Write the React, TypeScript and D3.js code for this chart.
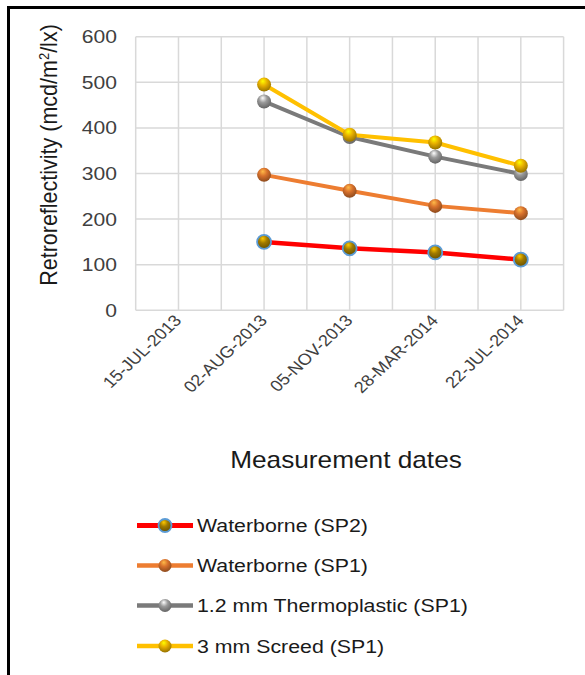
import React, { useEffect } from "react";
import * as d3 from "d3";

const categories = ["15-JUL-2013", "02-AUG-2013", "05-NOV-2013", "28-MAR-2014", "22-JUL-2014"];
const seriesNames = ["Waterborne (SP2)", "Waterborne (SP1)", "1.2 mm Thermoplastic (SP1)", "3 mm Screed (SP1)"];
const waterborneSP2: (number | null)[] = [null, 150, 136, 127, 111];
const waterborneSP1: (number | null)[] = [null, 297, 262, 229, 213];
const thermoplasticSP1: (number | null)[] = [null, 458, 380, 337, 299];
const screedSP1: (number | null)[] = [null, 495, 385, 368, 317];
const yTicks = [0, 100, 200, 300, 400, 500, 600];

const lineColors = ["#ff0000", "#ed7d31", "#7a7a7a", "#ffc000"];
const markerBase = ["#a07a00", "#d8712c", "#9a9a9a", "#e8b000"];
const markerStroke = ["#5b9bd5", "none", "none", "none"];

const FONT = "'Liberation Sans', Arial, sans-serif";
const SX = 1.14;

export default function App() {
  useEffect(() => {
    document.body.style.margin = "0";
  }, []);

  const W = 585, H = 675;
  const left = 135.7, right = 563.6, top = 36.7, bottom = 310.3;
  const x = d3.scaleBand<string>().domain(categories).range([left, right]).padding(0);
  const bw = x.bandwidth();
  const cx = (c: string) => (x(c) as number) + bw / 2;
  const y = d3.scaleLinear().domain([0, 600]).range([bottom, top]);

  const allSeries = [waterborneSP2, waterborneSP1, thermoplasticSP1, screedSP1];
  const line = d3
    .line<number | null>()
    .defined((d) => d != null)
    .x((_, i) => cx(categories[i]))
    .y((d) => y(d as number));

  const vGrid: number[] = [];
  categories.forEach((c) => {
    vGrid.push(x(c) as number);
    vGrid.push(cx(c));
  });
  vGrid.push(right);

  const legendY = [525.5, 565.5, 605.5, 646];

  const sphere = (i: number, px: number, py: number, r: number, key: string) => (
    <circle
      key={key}
      cx={px}
      cy={py}
      r={r}
      fill={`url(#grad${i})`}
      stroke={markerStroke[i]}
      strokeWidth={markerStroke[i] === "none" ? 0 : 1.8}
    />
  );

  return (
    <svg width={W} height={H} style={{ display: "block", position: "absolute", left: 0, top: 0, background: "#fff" }}>
      <defs>
        {markerBase.map((c, i) => (
          <radialGradient key={i} id={`grad${i}`} cx="45%" cy="35%" r="65%" fx="40%" fy="25%">
            <stop offset="0%" stopColor={d3.color(c)!.brighter(1.4).formatHex()} />
            <stop offset="45%" stopColor={c} />
            <stop offset="100%" stopColor={d3.color(c)!.darker(1.2).formatHex()} />
          </radialGradient>
        ))}
      </defs>
      <rect x={0} y={0} width={W} height={H} fill="#fff" />
      {/* frame */}
      <line x1={8.5} x2={8.5} y1={6} y2={H} stroke="#000" strokeWidth={3} />
      <line x1={7} x2={W} y1={7.5} y2={7.5} stroke="#000" strokeWidth={3} />

      {/* gridlines */}
      {yTicks.map((t) => (
        <line key={"h" + t} x1={left} x2={right} y1={y(t)} y2={y(t)} stroke="#d9d9d9" strokeWidth={1.5} />
      ))}
      {vGrid.map((g, i) => (
        <line key={"v" + i} x1={g} x2={g} y1={top} y2={bottom} stroke="#d9d9d9" strokeWidth={1.5} />
      ))}

      {/* y tick labels */}
      {yTicks.map((t) => (
        <text
          key={"yt" + t}
          transform={`translate(117,${y(t) + 6.5}) scale(${SX},1)`}
          textAnchor="end"
          fontFamily={FONT}
          fontSize={18.5}
          fill="#404040"
        >
          {t}
        </text>
      ))}

      {/* x tick labels */}
      {categories.map((c) => (
        <text
          key={"xt" + c}
          transform={`translate(${cx(c) + 4},${bottom + 11}) scale(${SX},1) rotate(-47)`}
          textAnchor="end"
          fontFamily={FONT}
          fontSize={16}
          fill="#404040"
        >
          {c}
        </text>
      ))}

      {/* axis titles */}
      <text
        transform={`translate(57,155) scale(${SX},1) rotate(-90)`}
        textAnchor="middle"
        fontFamily={FONT}
        fontSize={21.5}
        fill="#1a1a1a"
      >
        Retroreflectivity (mcd/m<tspan dy={-7} fontSize={13}>2</tspan>
        <tspan dy={7}>/lx)</tspan>
      </text>
      <text
        transform={`translate(346,468) scale(${SX},1)`}
        textAnchor="middle"
        fontFamily={FONT}
        fontSize={23}
        fill="#1a1a1a"
      >
        Measurement dates
      </text>

      {/* lines */}
      {allSeries.map((s, i) => (
        <path key={"l" + i} d={line(s) || ""} fill="none" stroke={lineColors[i]} strokeWidth={i === 0 ? 4.5 : 4} strokeLinejoin="round" />
      ))}
      {allSeries.map((s, i) =>
        s.map((v, j) => (v == null ? null : sphere(i, cx(categories[j]), y(v), 7, `m${i}-${j}`)))
      )}

      {/* legend */}
      {seriesNames.map((n, i) => (
        <g key={"lg" + i}>
          <line x1={137} x2={193} y1={legendY[i]} y2={legendY[i]} stroke={lineColors[i]} strokeWidth={i === 0 ? 5 : 4.5} />
          {sphere(i, 165, legendY[i], 6.5, "lm" + i)}
          <text
            transform={`translate(197,${legendY[i] + 6.5}) scale(${SX},1)`}
            fontFamily={FONT}
            fontSize={18.7}
            fill="#1a1a1a"
          >
            {n}
          </text>
        </g>
      ))}
    </svg>
  );
}
